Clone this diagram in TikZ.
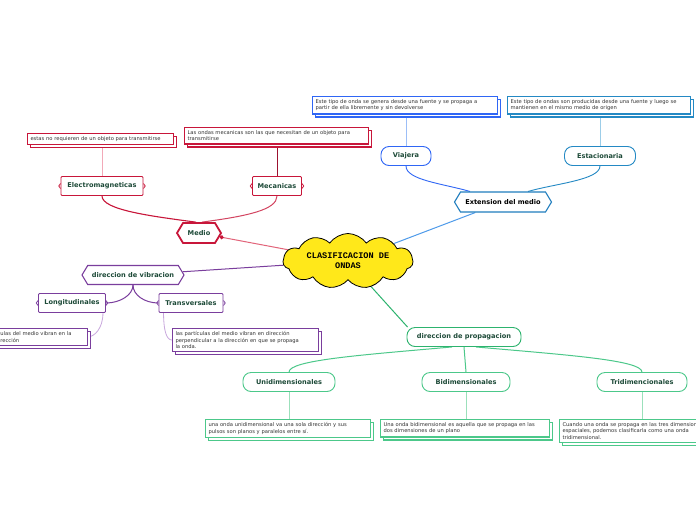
\documentclass[tikz,border=0pt]{standalone}
\usepackage{fontspec}
\setmainfont{DejaVu Sans}
\newfontfamily\cloudfont{Liberation Mono}
\usetikzlibrary{shapes.symbols,shadows,arrows.meta,backgrounds}

\definecolor{cloudyellow}{HTML}{FFE81A}
\definecolor{labeltext}{HTML}{1D4A38}
\definecolor{notetext}{HTML}{333333}
\definecolor{medred}{HTML}{C8163A}
\definecolor{medpink}{HTML}{E2647A}
\definecolor{medlight}{HTML}{F2A9B8}
\definecolor{meddark}{HTML}{9C1230}
\definecolor{viablue}{HTML}{2F66F5}
\definecolor{viablight}{HTML}{9CBEF7}
\definecolor{estblue}{HTML}{2489C4}
\definecolor{estblight}{HTML}{9CCDE8}
\definecolor{extblue}{HTML}{1F7DBE}
\definecolor{linkblue}{HTML}{4F9BEA}
\definecolor{vibpurple}{HTML}{7A3E9D}
\definecolor{viblight}{HTML}{C9A8DD}
\definecolor{propgreen}{HTML}{2DB36E}
\definecolor{propmid}{HTML}{4CC88A}
\definecolor{proplight}{HTML}{9BE0BB}

\tikzset{
  topicfont/.style={font=\fontsize{6.6}{8}\selectfont\bfseries, text=labeltext},
  notebox/.style={draw=#1, line width=1.1pt, fill=white, align=left, inner sep=3pt,
    font=\fontsize{5.2}{6.4}\selectfont, text=notetext,
    general shadow={shadow xshift=3pt, shadow yshift=-3pt, fill=white, draw=#1, line width=1.1pt}},
  roundbox/.style={topicfont, draw=#1, line width=0.9pt, fill=white, rounded corners=8pt,
    minimum height=19pt},
  hexbox/.style={topicfont, draw=#1, line width=1.1pt, fill=white, signal,
    signal to=west and east, signal pointer angle=118, minimum height=20pt},
  bracebox/.style={topicfont, draw=#1, line width=0.9pt, fill=white, rounded corners=1pt,
    minimum height=19pt,
    append after command={\pgfextra{
      \draw[#1, line width=0.8pt] ([yshift=2.5pt]\tikzlastnode.west) -- ++(-1.8pt,-2.5pt) -- ++(1.8pt,-2.5pt);
      \draw[#1, line width=0.8pt] ([yshift=2.5pt]\tikzlastnode.east) -- ++(1.8pt,-2.5pt) -- ++(-1.8pt,-2.5pt);
    }}},
}

\begin{document}
\begin{tikzpicture}[x=1pt,y=-1pt]
\useasboundingbox (0,0) rectangle (696,520);
\clip (0,0) rectangle (696,520);

% centre
\node[cloud, draw=black, fill=cloudyellow, line width=0.8pt, cloud puffs=11, cloud puff arc=110,
  cloud ignores aspect, minimum width=130pt, minimum height=55pt, inner sep=0pt, align=center,
  font=\cloudfont\bfseries\fontsize{8.6}{10}\selectfont] (ondas) at (348,261)
{CLASIFICACION DE\\ONDAS};

% extension del medio
\node[hexbox=extblue, text=black, minimum width=97pt] (ext) at (503,202) {Extension del medio};
\node[roundbox=viablue, minimum width=50pt] (viajera) at (406,156) {Viajera};
\node[roundbox=estblue, minimum width=71pt] (estac) at (600,156) {Estacionaria};
\node[notebox=viablue, anchor=north west, text width=179pt] (nviaj) at (312,96)
{Este tipo de onda se genera desde una fuente y se propaga a\\partir de ella libremente y sin devolverse};
\node[notebox=estblue, anchor=north west, text width=177pt] (nestac) at (507,96)
{Este tipo de ondas son producidas desde una fuente y luego se\\mantienen en el mismo medio de origen};

% medio
\node[hexbox=medred, line width=1.8pt, minimum width=44pt] (medio) at (199,233) {Medio};
\node[bracebox=medred, minimum width=82pt] (elec) at (102,186) {Electromagneticas};
\node[bracebox=medred, minimum width=49pt] (mec) at (277,186) {Mecanicas};
\node[notebox=medred, anchor=north west, text width=140pt] (nelec) at (27,133)
{estas no requieren de un objeto para transmitirse};
\node[notebox=medred, anchor=north west, text width=178pt] (nmec) at (184,127)
{Las ondas mecanicas son las que necesitan de un objeto para\\transmitirse};

% direccion de vibracion
\node[hexbox=vibpurple, minimum width=102pt, minimum height=19pt] (vib) at (133,275) {direccion de vibracion};
\node[bracebox=vibpurple, minimum width=67pt] (long) at (72,303) {Longitudinales};
\node[bracebox=vibpurple, minimum width=64pt] (trans) at (191,303) {Transversales};
\node[notebox=vibpurple, anchor=north east, text width=108pt] (nlong) at (88,328)
{las partículas del medio vibran en la\\misma dirección};
\node[notebox=vibpurple, anchor=north west, text width=140pt] (ntrans) at (172,328)
{las partículas del medio vibran en dirección\\perpendicular a la dirección en que se propaga\\la onda.};

% direccion de propagacion
\node[roundbox=propgreen, minimum width=114pt] (prop) at (464,337) {direccion de propagacion};
\node[roundbox=propmid, minimum width=92pt] (uni) at (289,382) {Unidimensionales};
\node[roundbox=propmid, minimum width=88pt] (bi) at (466,382) {Bidimensionales};
\node[roundbox=propmid, minimum width=90pt] (tri) at (642,382) {Tridimencionales};
\node[notebox=propmid, anchor=north west, text width=159pt] (nuni) at (205,419)
{una onda unidimensional va una sola dirección y sus\\pulsos son planos y paralelos entre sí.};
\node[notebox=propmid, anchor=north west, text width=163pt] (nbi) at (380,419)
{Una onda bidimensional es aquella que se propaga en las\\dos dimensiones de un plano};
\node[notebox=propmid, anchor=north west, text width=170pt] (ntri) at (559,419)
{Cuando una onda se propaga en las tres dimensiones\\espaciales, podemos clasificarla como una onda\\tridimensional.};

\begin{scope}[on background layer]
\fill[white] (0,0) rectangle (696,520);
\draw[linkblue, line width=1pt] (ext) -- (ondas);
\draw[viablue, line width=0.9pt] (viajera.south) .. controls +(0,14) and +(-28,-8) .. ([xshift=-33pt]ext.north);
\draw[estblue, line width=0.9pt] (estac.south) .. controls +(0,14) and +(28,-8) .. ([xshift=25pt]ext.north);
\draw[viablight, line width=1pt] (viajera.north) -- (viajera.north |- nviaj.center);
\draw[estblight, line width=1pt] (estac.north) -- (estac.north |- nestac.center);

\draw[medpink, line width=1pt, {Circle[length=4pt, color=medred]}-] (medio) -- (ondas);
\draw[medred, line width=1.1pt] (elec.south) .. controls +(0,14) and +(-45,-6) .. (medio.105);
\draw[medred!80, line width=1pt] (mec.south) .. controls +(0,14) and +(45,-6) .. (medio.75);
\draw[medlight, line width=1pt] (elec.north) -- (elec.north |- nelec.center);
\draw[meddark, line width=0.8pt] (mec.north) -- (mec.north |- nmec.center);

\draw[vibpurple, line width=1pt] (vib) -- (ondas);
\draw[vibpurple, line width=1pt] (vib.south) .. controls +(0,10) and +(14,0) .. (long.east);
\draw[vibpurple, line width=1pt] (vib.south) .. controls +(0,10) and +(-14,0) .. (trans.west);
\draw[viblight, line width=0.8pt] ([xshift=-3pt]long.south east) .. controls +(0,16) and +(6,0) .. (nlong.east);
\draw[viblight, line width=0.8pt] ([xshift=5pt]trans.south west) .. controls +(0,16) and +(-6,0) .. (ntrans.west);

\draw[propgreen, line width=1pt] (ondas) -- (prop.170);
\draw[propmid, line width=1pt] ([xshift=-12pt]prop.south) .. controls +(-90,8) and +(0,-12) .. (uni.north);
\draw[propmid, line width=1pt] (prop.south) -- (bi.north);
\draw[propmid, line width=1pt] ([xshift=12pt]prop.south) .. controls +(90,8) and +(0,-12) .. (tri.north);
\draw[proplight, line width=1pt] (uni.south) -- (uni.south |- nuni.center);
\draw[proplight, line width=1pt] (bi.south) -- (bi.south |- nbi.center);
\draw[proplight, line width=1pt] (tri.south) -- (tri.south |- ntri.center);
\end{scope}
\end{tikzpicture}
\end{document}
